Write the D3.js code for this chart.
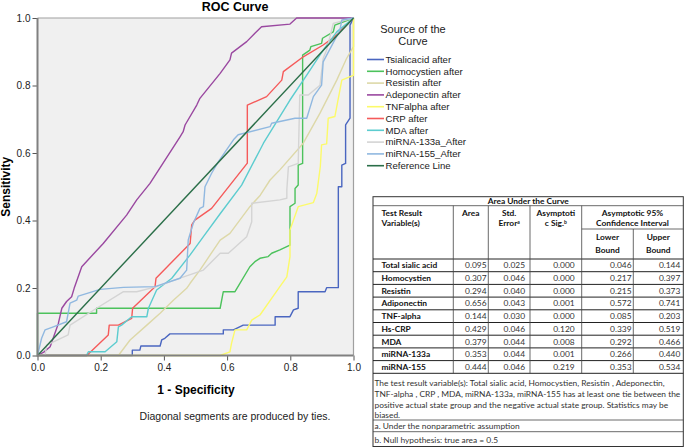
<!DOCTYPE html>
<html>
<head>
<meta charset="utf-8">
<script src="https://cdn.jsdelivr.net/npm/d3@7"></script>
<style>
  body { margin: 0; background: #fff; }
  svg { display: block; }
</style>
</head>
<body>
<div id="chart"></div>
<script>
// ROC curves, points as [1 - specificity, sensitivity]
const seriesNames = ["Tsialicacid after", "Homocystien after", "Resistin after", "Adeponectin after",
  "TNFalpha after", "CRP after", "MDA after", "miRNA-133a_After", "miRNA-155_After", "Reference Line"];
const seriesColors = ["#4a66c0", "#4cc25c", "#ddd8a8", "#9a48a0", "#fcfa6a",
  "#f55a5a", "#5ccccf", "#d4d4d4", "#90b8e0", "#2a6e48"];

const tsialicacid = [[0,0],[0.3,0],[0.3,0.016],[0.324,0.016],[0.327,0.028],[0.388,0.028],[0.393,0.046],
  [0.403,0.051],[0.419,0.064],[0.588,0.064],[0.588,0.076],[0.62,0.076],[0.651,0.09],[0.752,0.09],
  [0.752,0.115],[0.799,0.115],[0.81,0.135],[0.825,0.14],[0.825,0.189],[0.91,0.189],[0.915,0.201],
  [0.952,0.201],[0.952,0.5],[0.963,0.5],[0.963,0.564],[0.975,0.569],[0.975,0.683],[0.989,0.703],
  [0.989,0.979],[1,1]];
const homocystien = [[0,0],[0,0.125],[0.187,0.125],[0.187,0.14],[0.578,0.14],[0.588,0.189],[0.625,0.189],
  [0.672,0.263],[0.688,0.278],[0.704,0.288],[0.73,0.293],[0.741,0.303],[0.767,0.313],[0.799,0.327],
  [0.799,0.441],[0.815,0.451],[0.815,0.495],[0.825,0.505],[0.825,0.564],[0.839,0.569],[0.839,0.89],
  [0.862,0.905],[0.865,0.915],[0.899,0.925],[0.902,0.94],[0.936,0.959],[0.941,0.979],[1,1]];
const resistin = [[0,0],[0.256,0],[0.293,0.046],[0.346,0.09],[0.388,0.125],[0.43,0.164],[0.472,0.199],
  [0.483,0.214],[0.514,0.253],[0.578,0.342],[0.609,0.362],[0.672,0.441],[0.705,0.475],[0.736,0.52],
  [0.767,0.55],[0.841,0.629],[0.894,0.718],[0.947,0.816],[0.978,0.88],[1,0.915],[1,1]];
const adeponectin = [[0,0],[0.02,0.01],[0.04,0.026],[0.066,0.095],[0.077,0.14],[0.092,0.16],[0.108,0.174],
  [0.116,0.199],[0.14,0.263],[0.208,0.332],[0.282,0.416],[0.314,0.461],[0.356,0.51],[0.451,0.648],
  [0.461,0.663],[0.467,0.683],[0.504,0.742],[0.514,0.762],[0.578,0.836],[0.609,0.876],[0.614,0.896],
  [0.662,0.93],[0.688,0.955],[0.709,0.974],[0.799,0.982],[0.82,1],[1,1]];
const tnfalpha = [[0,0],[0.578,0],[0.609,0.011],[0.614,0.036],[0.625,0.076],[0.662,0.076],[0.678,0.105],
  [0.704,0.12],[0.752,0.184],[0.767,0.204],[0.789,0.233],[0.799,0.293],[0.799,0.372],[0.825,0.441],
  [0.873,0.453],[0.884,0.481],[0.895,0.56],[0.899,0.624],[0.915,0.627],[0.92,0.703],[0.941,0.708],
  [0.963,0.816],[0.989,0.826],[1,0.83],[1,1]];
const crp = [[0,0],[0.156,0],[0.224,0.061],[0.227,0.09],[0.256,0.09],[0.298,0.11],[0.301,0.14],
  [0.372,0.204],[0.375,0.229],[0.483,0.332],[0.488,0.387],[0.498,0.401],[0.551,0.436],[0.664,0.57],
  [0.664,0.742],[0.725,0.767],[0.773,0.816],[0.778,0.841],[0.841,0.885],[0.904,0.92],[0.941,0.945],[1,1]];
const mda = [[0,0],[0.155,0],[0.161,0.011],[0.214,0.011],[0.251,0.041],[0.256,0.085],[0.266,0.09],
  [0.298,0.115],[0.346,0.115],[0.351,0.14],[0.377,0.194],[0.425,0.229],[0.483,0.298],[0.525,0.352],
  [0.578,0.42],[0.646,0.505],[0.704,0.609],[0.715,0.629],[0.799,0.757],[0.852,0.831],[0.904,0.905],
  [0.947,0.959],[1,1]];
const mirna133a = [[0,0],[0.024,0],[0.029,0.031],[0.097,0.061],[0.103,0.09],[0.187,0.14],[0.272,0.189],
  [0.314,0.189],[0.377,0.204],[0.451,0.229],[0.525,0.253],[0.578,0.303],[0.604,0.303],[0.662,0.352],
  [0.678,0.396],[0.678,0.451],[0.767,0.461],[0.789,0.466],[0.789,0.49],[0.794,0.559],[0.825,0.569],
  [0.83,0.772],[0.857,0.772],[0.894,0.801],[0.904,0.88],[0.915,0.905],[0.936,0.984],[1,1]];
const mirna155 = [[0,0],[0.013,0.051],[0.024,0.076],[0.05,0.085],[0.092,0.1],[0.103,0.155],[0.124,0.164],
  [0.129,0.176],[0.198,0.196],[0.272,0.202],[0.372,0.204],[0.451,0.229],[0.472,0.253],[0.477,0.342],
  [0.493,0.392],[0.514,0.436],[0.525,0.441],[0.53,0.5],[0.551,0.54],[0.572,0.574],[0.62,0.639],
  [0.635,0.654],[0.736,0.678],[0.741,0.688],[0.815,0.703],[0.852,0.703],[0.873,0.767],[0.899,0.801],
  [0.904,0.87],[0.957,0.964],[0.963,0.994],[1,1]];
const referenceLine = [[0,0],[1,1]];

const xTicks = [0, 0.2, 0.4, 0.6, 0.8, 1.0];
const yTicks = [0, 0.2, 0.4, 0.6, 0.8, 1.0];

// Area Under the Curve table
const tableVars = ["Total sialic acid", "Homocystien", "Resistin", "Adiponectin", "TNF-alpha",
  "Hs-CRP", "MDA", "miRNA-133a", "miRNA-155"];
const tableArea = ["0.095", "0.307", "0.294", "0.656", "0.144", "0.429", "0.379", "0.353", "0.444"];
const tableStdErr = ["0.025", "0.046", "0.040", "0.043", "0.030", "0.046", "0.044", "0.044", "0.046"];
const tableSig = ["0.000", "0.000", "0.000", "0.001", "0.000", "0.120", "0.008", "0.001", "0.219"];
const tableLower = ["0.046", "0.217", "0.215", "0.572", "0.085", "0.339", "0.292", "0.266", "0.353"];
const tableUpper = ["0.144", "0.397", "0.373", "0.741", "0.203", "0.519", "0.466", "0.440", "0.534"];
const tableNote = ["The test result variable(s): Total sialic acid, Homocystien, Resistin , Adeponectin,",
  "TNF-alpha , CRP , MDA, miRNA-133a, miRNA-155 has at least one tie between the",
  "positive actual state group and the negative actual state group. Statistics may be",
  "biased."];
const footA = "a. Under the nonparametric assumption";
const footB = "b. Null hypothesis: true area = 0.5";

const series = [tsialicacid, homocystien, resistin, adeponectin, tnfalpha, crp, mda, mirna133a, mirna155];

const width = 685, height = 447;
const svg = d3.select("#chart").append("svg").attr("width", width).attr("height", height);
const chartFont = "'Liberation Sans', Arial, sans-serif";
const tableFont = "Lato, 'Open Sans', sans-serif";

const x = d3.scaleLinear().domain([0, 1]).range([37.5, 353.5]);
const y = d3.scaleLinear().domain([0, 1]).range([355.5, 18]);

// plot background and frame
svg.append("rect")
  .attr("x", x(0)).attr("y", y(1))
  .attr("width", x(1) - x(0)).attr("height", y(0) - y(1))
  .attr("fill", "#f0f0f0");

svg.append("path")
  .attr("d", `M${x(0)},${y(1)}H${x(1)}V${y(0)}`)
  .attr("fill", "none").attr("stroke", "#a0a0a0").attr("stroke-width", 1.2);

const line = d3.line().x(d => x(d[0])).y(d => y(d[1]));

series.forEach((s, i) => {
  svg.append("path")
    .datum(s)
    .attr("fill", "none")
    .attr("stroke", seriesColors[i])
    .attr("stroke-width", 1.4)
    .attr("stroke-linejoin", "round")
    .attr("d", line);
});

svg.append("path")
  .datum(referenceLine)
  .attr("fill", "none")
  .attr("stroke", seriesColors[9])
  .attr("stroke-width", 1.4)
  .attr("d", line);

// axes
const xAxis = g => g
  .attr("transform", `translate(0,${y(0)})`)
  .call(d3.axisBottom(x).tickValues(xTicks).tickFormat(d3.format(".1f")).tickSize(5).tickPadding(3))
  .call(g => g.select(".domain").remove())
  .call(g => g.selectAll("line").attr("stroke", "#555"))
  .call(g => g.selectAll("text").attr("font-family", chartFont).attr("font-size", 10).attr("fill", "#222"));

const yAxis = g => g
  .attr("transform", `translate(${x(0)},0)`)
  .call(d3.axisLeft(y).tickValues(yTicks).tickFormat(d3.format(".1f")).tickSize(5).tickPadding(2))
  .call(g => g.select(".domain").remove())
  .call(g => g.selectAll("line").attr("stroke", "#555"))
  .call(g => g.selectAll("text").attr("font-family", chartFont).attr("font-size", 10).attr("fill", "#222"));

svg.append("g").call(xAxis);
svg.append("g").call(yAxis);

svg.append("path")
  .attr("d", `M${x(0)},${y(1)}V${y(0)}H${x(1)}`)
  .attr("fill", "none").attr("stroke", "#808080").attr("stroke-width", 2);

// titles
svg.append("text")
  .attr("x", 235).attr("y", 10.5)
  .attr("text-anchor", "middle")
  .attr("font-family", chartFont).attr("font-size", 12.5).attr("font-weight", "bold")
  .text("ROC Curve");

svg.append("text")
  .attr("transform", `translate(10,${(y(0) + y(1)) / 2}) rotate(-90)`)
  .attr("text-anchor", "middle")
  .attr("font-family", chartFont).attr("font-size", 12).attr("font-weight", "bold")
  .text("Sensitivity");

svg.append("text")
  .attr("x", 196).attr("y", 394)
  .attr("text-anchor", "middle")
  .attr("font-family", chartFont).attr("font-size", 12).attr("font-weight", "bold")
  .text("1 - Specificity");

svg.append("text")
  .attr("x", 235).attr("y", 420)
  .attr("text-anchor", "middle")
  .attr("font-family", chartFont).attr("font-size", 10.5).attr("fill", "#222")
  .text("Diagonal segments are produced by ties.");

// legend
const legend = svg.append("g").attr("font-family", chartFont);
legend.append("text").attr("x", 413).attr("y", 33).attr("text-anchor", "middle")
  .attr("font-size", 11).attr("fill", "#222").text("Source of the");
legend.append("text").attr("x", 413).attr("y", 45).attr("text-anchor", "middle")
  .attr("font-size", 11).attr("fill", "#222").text("Curve");

const legendItem = legend.selectAll(".item").data(seriesNames).join("g")
  .attr("transform", (d, i) => `translate(0,${59.5 + i * 11.8})`);
legendItem.append("line")
  .attr("x1", 367).attr("x2", 384)
  .attr("stroke", (d, i) => seriesColors[i]).attr("stroke-width", 1.6);
legendItem.append("text")
  .attr("x", 385.5).attr("dy", "0.35em")
  .attr("font-size", 9.6).attr("fill", "#222")
  .text(d => d);

// table
const cols = [373, 453.3, 488.3, 530, 581.7, 633.3, 683.3];
const tTop = 196.7, tRow1 = 205.7, tRow2 = 229, tData = 259, rowH = 12.7;
const tDataEnd = tData + rowH * tableVars.length;
const tNoteEnd = 420, tAEnd = 431.7, tBottom = 446.5;

const tbl = svg.append("g").attr("font-family", tableFont).attr("font-size", 8.4).attr("fill", "#111");
const hline = (y0, xa, xb, c, w) => tbl.append("line").attr("x1", xa).attr("x2", xb)
  .attr("y1", y0).attr("y2", y0).attr("stroke", c).attr("stroke-width", w);
const vline = (x0, ya, yb, c, w) => tbl.append("line").attr("x1", x0).attr("x2", x0)
  .attr("y1", ya).attr("y2", yb).attr("stroke", c).attr("stroke-width", w);

tbl.append("rect").attr("x", cols[0]).attr("y", tTop)
  .attr("width", cols[6] - cols[0]).attr("height", tBottom - tTop)
  .attr("fill", "#fff").attr("stroke", "#333").attr("stroke-width", 1);

hline(tRow1, cols[0], cols[6], "#444", 0.8);
hline(tRow2, cols[4], cols[6], "#444", 0.8);
for (let i = 0; i <= tableVars.length; i++) {
  hline(tData + i * rowH, cols[0], cols[6], "#222", 1);
}
hline(tNoteEnd, cols[0], cols[6], "#444", 0.8);
hline(tAEnd, cols[0], cols[6], "#444", 0.8);
for (let c = 1; c < 6; c++) {
  vline(cols[c], c === 5 ? tRow2 : tRow1, tDataEnd, "#444", 0.8);
}

const bold = (t, xx, yy, anchor) => tbl.append("text").attr("x", xx).attr("y", yy)
  .attr("text-anchor", anchor || "start").attr("font-weight", "bold").text(t);

bold("Area Under the Curve", (cols[0] + cols[6]) / 2, 204.3, "middle");
bold("Test Result", cols[0] + 8.5, 215.7);
bold("Variable(s)", cols[0] + 8.5, 226.3);
bold("Area", (cols[1] + cols[2]) / 2, 215.7, "middle");
bold("Std.", (cols[2] + cols[3]) / 2, 215.7, "middle");
const errT = bold("Error", (cols[2] + cols[3]) / 2, 226.3, "middle");
errT.append("tspan").attr("font-size", 5).attr("dy", -2.6).text("a");
bold("Asymptoti", (cols[3] + cols[4]) / 2, 215.7, "middle");
const sigT = bold("c Sig.", (cols[3] + cols[4]) / 2, 226.3, "middle");
sigT.append("tspan").attr("font-size", 5).attr("dy", -2.6).text("b");
bold("Asymptotic 95%", (cols[4] + cols[6]) / 2, 215.7, "middle");
bold("Confidence Interval", (cols[4] + cols[6]) / 2, 226.3, "middle");
bold("Lower", (cols[4] + cols[5]) / 2, 239.7, "middle");
bold("Bound", (cols[4] + cols[5]) / 2, 253, "middle");
bold("Upper", (cols[5] + cols[6]) / 2, 239.7, "middle");
bold("Bound", (cols[5] + cols[6]) / 2, 253, "middle");

const valueCols = [tableArea, tableStdErr, tableSig, tableLower, tableUpper];
const valuePad = [1.8, 5, 7, 1.8, 3];
tableVars.forEach((v, i) => {
  const yy = tData + i * rowH + rowH / 2 + 3;
  bold(v, cols[0] + 8.5, yy);
  valueCols.forEach((vals, c) => {
    tbl.append("text").attr("x", cols[c + 2] - valuePad[c]).attr("y", yy)
      .attr("text-anchor", "end").attr("fill", "#333").text(vals[i]);
  });
});

const noteBase = [385.7, 397, 408.3, 418];
tableNote.forEach((t, i) => {
  tbl.append("text").attr("x", cols[0] + 1.5).attr("y", noteBase[i])
    .attr("fill", "#333").text(t);
});
tbl.append("text").attr("x", cols[0] + 1.5).attr("y", 428.7).attr("fill", "#333").text(footA);
tbl.append("text").attr("x", cols[0] + 1.5).attr("y", 443).attr("fill", "#333").text(footB);
</script>
</body>
</html>
